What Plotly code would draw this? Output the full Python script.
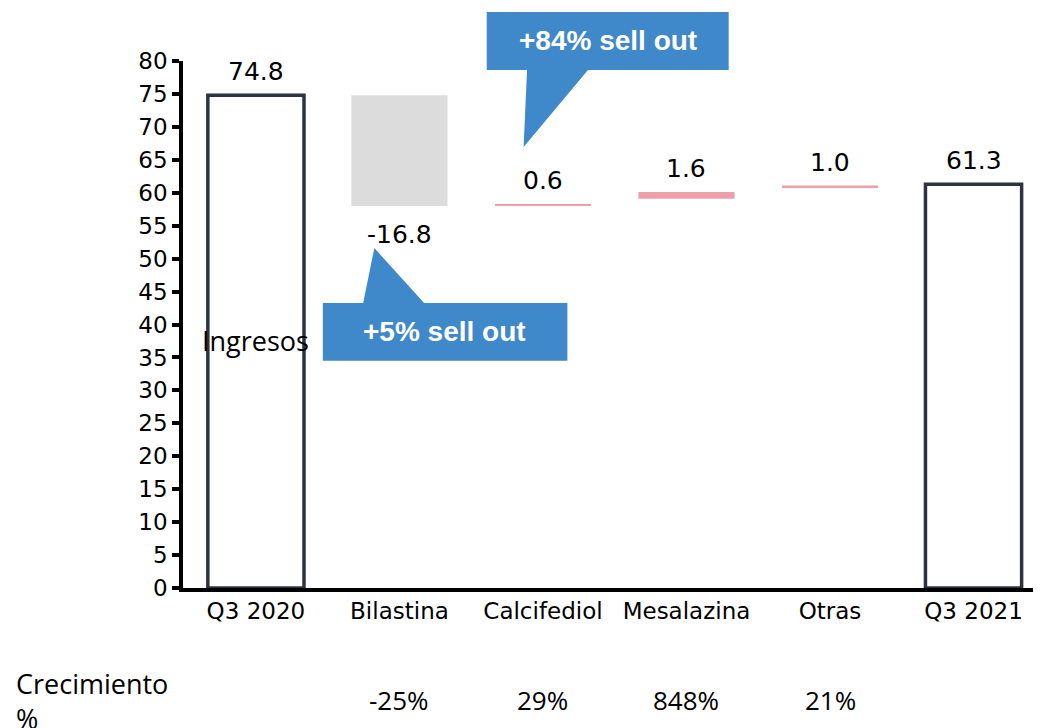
import plotly.graph_objects as go

# categories and values
categories = ["Q3 2020", "Bilastina", "Calcifediol", "Mesalazina", "Otras", "Q3 2021"]
bar_base = [0, 74.8, 58.0, 59.1, 60.8, 0]
bar_height = [74.8, -16.8, 0.3, 1.0, 0.3, 61.3]
value_labels = ["74.8", "-16.8", "0.6", "1.6", "1.0", "61.3"]
growth_labels = ["", "-25%", "29%", "848%", "21%", ""]
callout_texts = ["+84% sell out", "+5% sell out"]

DARK = "#2d3440"
PINK = "#eea0aa"
GREY = "#dcdcdc"
BLUE = "#3f88c9"

fill_colors = ["white", GREY, PINK, PINK, PINK, "white"]
line_widths = [3.5, 0, 0, 0, 0, 3.5]

x_pos = list(range(len(categories)))

fig = go.Figure()
fig.add_trace(go.Bar(
    x=x_pos,
    y=bar_height,
    base=bar_base,
    width=0.67,
    marker=dict(color=fill_colors, line=dict(color=DARK, width=line_widths)),
    showlegend=False,
    hoverinfo="skip",
))

annotations = []
# value labels above / below each bar
for i, lab in enumerate(value_labels):
    top = bar_base[i] + bar_height[i]
    if bar_height[i] < 0:
        annotations.append(dict(x=i, y=top, xref="x", yref="y", text=lab, showarrow=False,
                                yanchor="top", yshift=-12,
                                font=dict(family="DejaVu Sans", size=25, color="black")))
    else:
        annotations.append(dict(x=i, y=top, xref="x", yref="y", text=lab, showarrow=False,
                                yanchor="bottom", yshift=7,
                                font=dict(family="DejaVu Sans", size=25, color="black")))

# growth row under the axis
for i, g in enumerate(growth_labels):
    if g:
        annotations.append(dict(x=i, y=-0.2125, xref="x", yref="paper", text=g, showarrow=False,
                                xanchor="center", yanchor="middle",
                                font=dict(family="Open Sans", size=26, color="black")))

annotations.append(dict(x=-0.197, y=-0.142, xref="paper", yref="paper", text="Crecimiento<br>%",
                        showarrow=False, xanchor="left", yanchor="top", align="left",
                        font=dict(family="Open Sans", size=27, color="black")))
annotations.append(dict(x=0, y=37.5, xref="x", yref="y", text="Ingresos", showarrow=False,
                        font=dict(family="Open Sans", size=27, color="black")))

# callout texts
annotations.append(dict(x=0.495, y=1.038, xref="paper", yref="paper", text="<b>" + callout_texts[0] + "</b>",
                        showarrow=False, xanchor="center", yanchor="middle",
                        font=dict(family="Liberation Sans", size=28, color="white")))
annotations.append(dict(x=0.305, y=0.486, xref="paper", yref="paper", text="<b>" + callout_texts[1] + "</b>",
                        showarrow=False, xanchor="center", yanchor="middle",
                        font=dict(family="Liberation Sans", size=28, color="white")))

shapes = [
    dict(type="path", xref="paper", yref="paper", layer="above",
         path="M 0.354,0.983 L 0.401,0.983 L 0.397,0.837 L 0.472,0.983 L 0.636,0.983 L 0.636,1.093 L 0.354,1.093 Z",
         fillcolor=BLUE, line=dict(width=0)),
    dict(type="path", xref="paper", yref="paper", layer="above",
         path="M 0.163,0.431 L 0.448,0.431 L 0.448,0.541 L 0.281,0.541 L 0.223,0.645 L 0.210,0.541 L 0.163,0.541 Z",
         fillcolor=BLUE, line=dict(width=0)),
]

# page body adds an 8px offset, so the figure is drawn 8px smaller
fig.update_layout(
    width=1033, height=720,
    margin=dict(l=175, r=0, t=53, b=140),
    plot_bgcolor="white", paper_bgcolor="white",
    annotations=annotations,
    shapes=shapes,
    xaxis=dict(range=[-0.508, 5.47], tickvals=x_pos, ticktext=categories,
               showgrid=False, zeroline=False, showline=True, linecolor="black", linewidth=3.5,
               ticks="", tickfont=dict(family="DejaVu Sans", size=23, color="black")),
    yaxis=dict(range=[0, 80], dtick=5, showgrid=False, zeroline=False,
               showline=True, linecolor="black", linewidth=3.5,
               ticks="outside", ticklen=7, tickwidth=3.5, tickcolor="black",
               tickfont=dict(family="DejaVu Sans", size=23, color="black")),
)

fig.write_html("out.html")
